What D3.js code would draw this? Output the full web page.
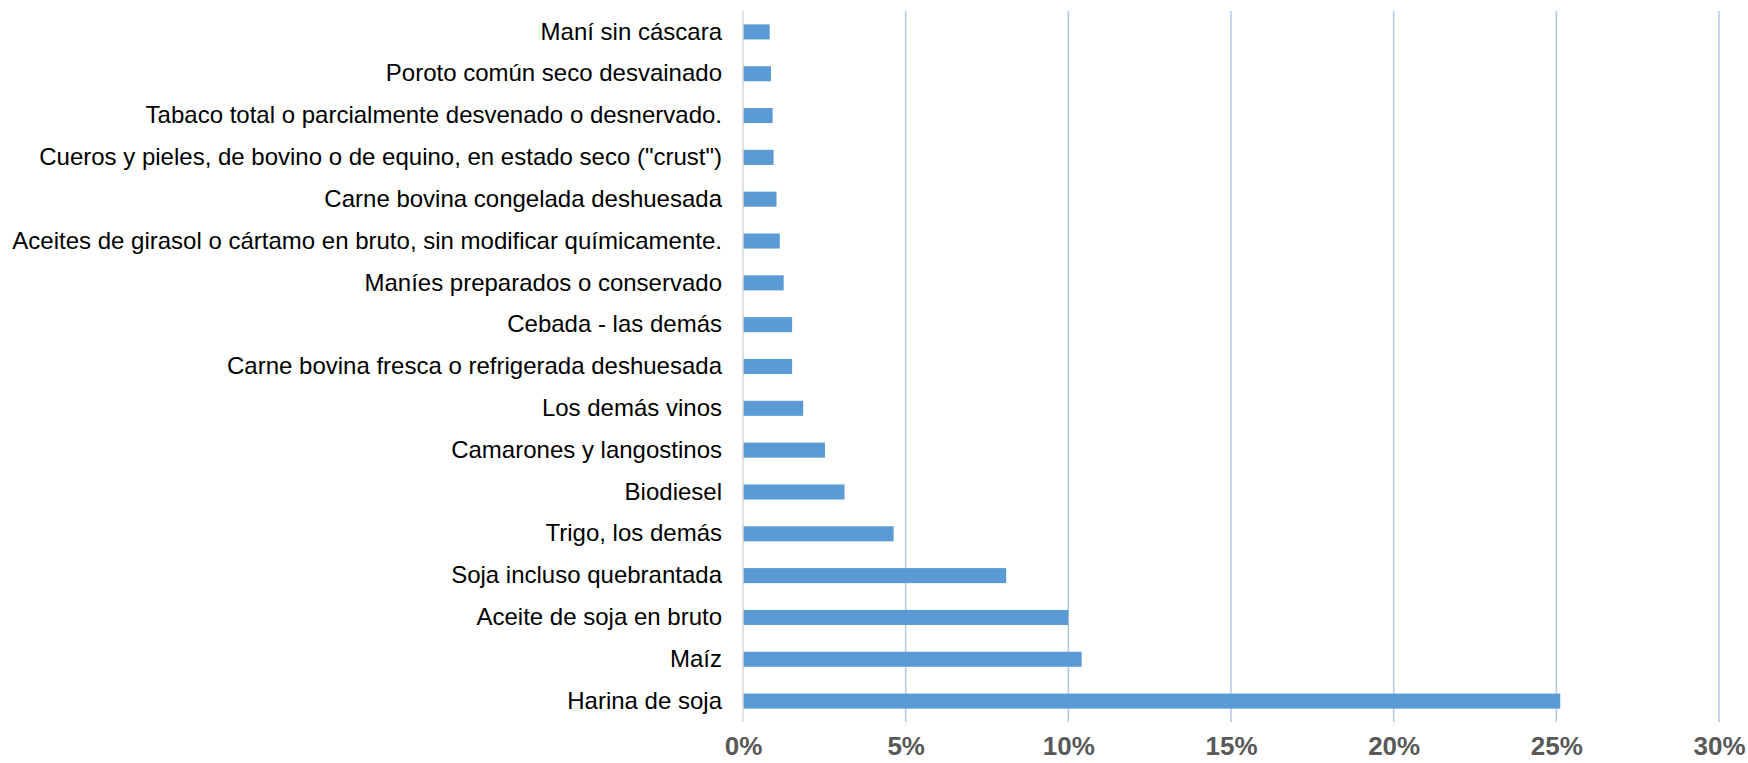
<!DOCTYPE html>
<html>
<head>
<meta charset="utf-8">
<script src="https://cdn.jsdelivr.net/npm/d3@7"></script>
<style>
    html, body { margin: 0; padding: 0; background: #fff; }
    #chart { width: 1748px; height: 763px; overflow: hidden; }
</style>
</head>
<body>
<div id="chart"></div>
<script>
const categories = [
    "Maní sin cáscara",
    "Poroto común seco desvainado",
    "Tabaco total o parcialmente desvenado o desnervado.",
    "Cueros y pieles, de bovino o de equino, en estado seco (\"crust\")",
    "Carne bovina congelada deshuesada",
    "Aceites de girasol o cártamo en bruto, sin modificar químicamente.",
    "Maníes preparados o conservado",
    "Cebada - las demás",
    "Carne bovina fresca o refrigerada deshuesada",
    "Los demás vinos",
    "Camarones y langostinos",
    "Biodiesel",
    "Trigo, los demás",
    "Soja incluso quebrantada",
    "Aceite de soja en bruto",
    "Maíz",
    "Harina de soja"
];
const shares = [0.82, 0.86, 0.91, 0.94, 1.03, 1.13, 1.25, 1.51, 1.51, 1.85, 2.52, 3.12, 4.63, 8.09, 10.0, 10.41, 25.12];
const tickValues = [0, 5, 10, 15, 20, 25, 30];

const W = 1748, H = 763;
const margin = { top: 11, right: 29, bottom: 41, left: 743 };
const width = W - margin.left - margin.right;
const height = H - margin.top - margin.bottom;

const svg = d3.select("#chart").append("svg")
    .attr("width", W)
    .attr("height", H)
    .append("g")
    .attr("transform", `translate(${margin.left},${margin.top})`);

const x = d3.scaleLinear().domain([0, 30]).range([0, width]);
const y = d3.scaleBand().domain(categories).range([0, height]).paddingInner(0.64).paddingOuter(0.32);

// Gridlines
svg.append("g")
    .selectAll("line")
    .data(tickValues.filter(d => d > 0))
    .join("line")
    .attr("x1", d => x(d)).attr("x2", d => x(d))
    .attr("y1", 0).attr("y2", height)
    .attr("stroke", "#B4C7E7")
    .attr("stroke-width", 1.5);

// Bars
svg.append("g")
    .selectAll("rect")
    .data(categories)
    .join("rect")
    .attr("x", x(0))
    .attr("y", d => y(d))
    .attr("width", (d, i) => x(shares[i]) - x(0))
    .attr("height", y.bandwidth())
    .attr("fill", "#5B9BD5");

// Zero axis line
svg.append("line")
    .attr("x1", x(0)).attr("x2", x(0))
    .attr("y1", 0).attr("y2", height)
    .attr("stroke", "#D9D9D9")
    .attr("stroke-width", 1.5);

// Category labels
const yAxis = svg.append("g")
    .call(d3.axisLeft(y).tickSize(0).tickPadding(21));
yAxis.select(".domain").remove();
yAxis.selectAll("text")
    .attr("font-family", "'Liberation Sans', Arial, sans-serif")
    .attr("font-size", 24)
    .attr("fill", "#000");

// Value axis (nudged up a little so the labels fit inside the frame)
const xAxis = svg.append("g")
    .attr("transform", `translate(0,${height})`)
    .call(d3.axisBottom(x).tickValues(tickValues).tickFormat(d => d + "%").tickSize(0).tickPadding(15));
xAxis.select(".domain").remove();
xAxis.selectAll("text")
    .attr("font-family", "'Liberation Sans', Arial, sans-serif")
    .attr("font-size", 26)
    .attr("font-weight", "bold")
    .attr("fill", "#595959");
</script>
</body>
</html>
